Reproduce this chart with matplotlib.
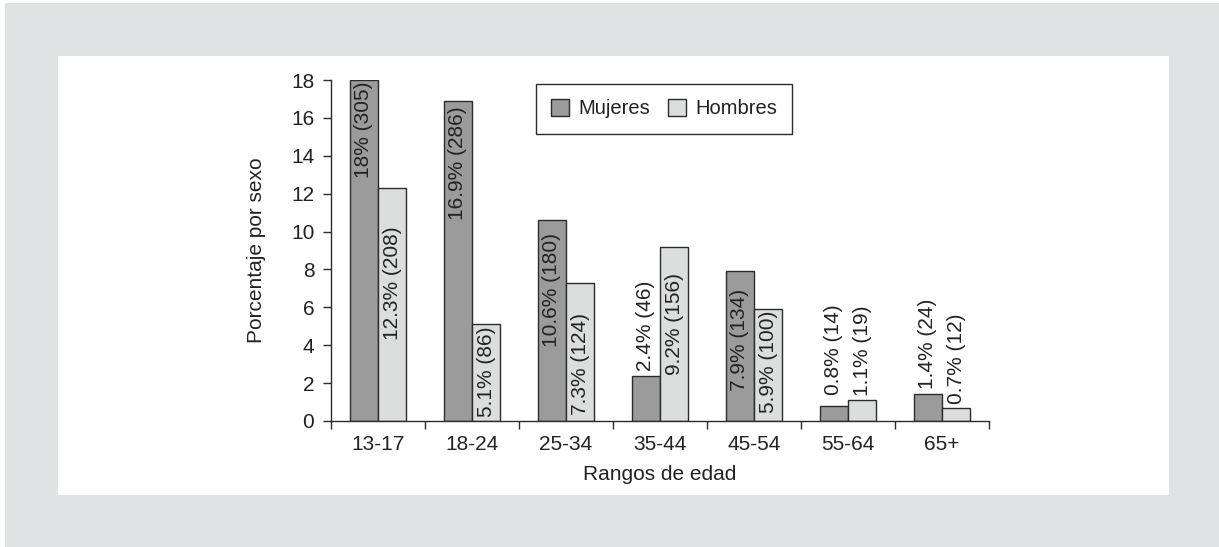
import matplotlib.pyplot as plt
import numpy as np
from matplotlib.patches import Rectangle

plt.rcParams['font.family'] = ['Liberation Sans', 'DejaVu Sans']

# Datos
rangos = ['13-17', '18-24', '25-34', '35-44', '45-54', '55-64', '65+']
mujeres = [18, 16.9, 10.6, 2.4, 7.9, 0.8, 1.4]
hombres = [12.3, 5.1, 7.3, 9.2, 5.9, 1.1, 0.7]
n_mujeres = [305, 286, 180, 46, 134, 14, 24]
n_hombres = [208, 86, 124, 156, 100, 19, 12]

# centro vertical de cada etiqueta (unidades de datos)
etiq_y_mujeres = [15.4, 13.6, 6.9, 5.0, 4.3, 3.75, 4.1]
etiq_y_hombres = [7.3, 2.6, 3.0, 5.1, 3.1, 3.7, 3.3]

fs = 15

fig = plt.figure(figsize=(12.19, 5.47), dpi=100)
fig.patch.set_facecolor('white')

# fondo gris y panel blanco
fig.patches.append(Rectangle((5 / 1219, 0), 1 - 5 / 1219, 1 - 3 / 547,
                             transform=fig.transFigure, facecolor='#e1e2e3',
                             edgecolor='none', zorder=-2))
fig.patches.append(Rectangle((58 / 1219, 1 - 495 / 547), 1111 / 1219, 439 / 547,
                             transform=fig.transFigure, facecolor='white',
                             edgecolor='none', zorder=-1))

ax = fig.add_axes([331 / 1219, 1 - 421 / 547, 658 / 1219, 341 / 547])
ax.patch.set_alpha(0)

x = np.arange(len(rangos))
w = 0.3
ax.bar(x - w / 2, mujeres, w, color='#9b9b9b', edgecolor='#2b2b2b',
       linewidth=1, label='Mujeres')
ax.bar(x + w / 2, hombres, w, color='#dcdddd', edgecolor='#2b2b2b',
       linewidth=1, label='Hombres')

for i in range(len(rangos)):
    ax.text(x[i] - w / 2, etiq_y_mujeres[i], f'{mujeres[i]:g}% ({n_mujeres[i]})',
            rotation=90, ha='center', va='center', fontsize=fs, color='#222222')
    ax.text(x[i] + w / 2, etiq_y_hombres[i], f'{hombres[i]:g}% ({n_hombres[i]})',
            rotation=90, ha='center', va='center', fontsize=fs, color='#222222')

ax.set_xlim(-0.5, len(rangos) - 0.5)
ax.set_ylim(0, 18)
ax.set_yticks(range(0, 19, 2))
ax.set_xticks(x)
ax.set_xticklabels(rangos)
ax.set_xticks(np.arange(-0.5, len(rangos), 1), minor=True)
ax.tick_params(axis='x', which='major', length=0, pad=10, labelsize=fs, colors='#222222')
ax.tick_params(axis='x', which='minor', length=6, width=1, direction='out', color='#2b2b2b')
ax.tick_params(axis='y', length=6, width=1, direction='out', labelsize=fs,
               colors='#222222', color='#2b2b2b', pad=6)

for s in ['top', 'right']:
    ax.spines[s].set_visible(False)
for s in ['left', 'bottom']:
    ax.spines[s].set_color('#2b2b2b')
    ax.spines[s].set_linewidth(1)

ax.set_ylabel('Porcentaje por sexo', fontsize=fs, color='#222222', labelpad=18)
ax.set_xlabel('Rangos de edad', fontsize=fs, color='#222222', labelpad=8)

leg = ax.legend(ncol=2, loc='upper left', bbox_to_anchor=(205 / 658, 1 - 4 / 341),
                fontsize=14.5, fancybox=False, edgecolor='#2b2b2b', framealpha=1,
                handlelength=0.9, handleheight=0.9, columnspacing=0.9,
                handletextpad=0.45, borderpad=0.75, borderaxespad=0)
leg.get_frame().set_linewidth(1)
for t in leg.get_texts():
    t.set_color('#222222')

fig.savefig('out.png', dpi=100)
